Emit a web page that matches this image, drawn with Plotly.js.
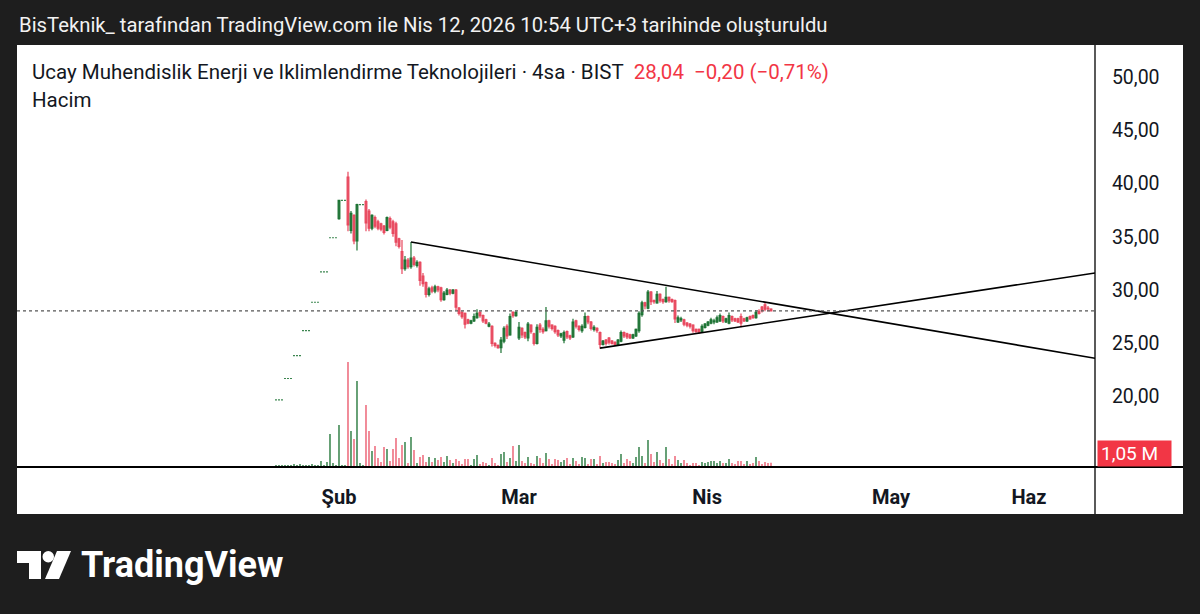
<!DOCTYPE html>
<html><head><meta charset="utf-8">
<script src="https://cdn.plot.ly/plotly-3.0.1.min.js"></script>
<style>html,body{margin:0;padding:0;background:#1e1e1e;}#chart{width:1200px;height:614px;}</style>
</head><body><div id="chart"></div>
<script>
// ---------------- DATA ----------------
const monthLabels = ['Şub', 'Mar', 'Nis', 'May', 'Haz'];
const monthStartBar = [21, 81, 143.7, 205, 251];
const priceTicks = [20, 25, 30, 35, 40, 45, 50];

const openP = [19.7,19.7,19.7,21.7,21.7,21.7,23.85,23.85,23.85,26.2,26.2,26.2,28.85,28.85,28.85,31.7,31.7,31.7,34.9,34.9,34.9,
36.7,38.4,38.4,40.6,35.6,37.0,34.6,38.0,38.0,38.3,37.4,35.8,36.8,36.4,36.2,36.0,35.6,36.7,36.4,
36.2,34.8,33.6,32.0,32.8,32.2,33.0,32.3,32.6,31.3,30.7,29.6,30.2,29.9,30.3,30.2,29.1,29.6,30.0,29.7,
30.0,28.3,27.9,27.8,27.2,26.9,27.1,27.4,27.9,27.6,27.2,26.6,26.6,25.0,24.8,24.6,25.2,26.6,25.8,27.9,
27.6,25.5,26.4,26.0,25.5,26.7,25.9,25.0,26.7,26.3,26.2,27.1,26.7,26.6,26.2,25.7,25.3,26.1,25.7,25.6,
27.1,26.6,26.2,26.5,27.5,27.0,26.3,26.4,26.0,24.9,25.3,25.5,25.2,25.1,24.9,25.2,26.0,25.9,25.8,25.5,
25.7,26.2,27.7,28.8,28.3,29.8,29.0,28.8,29.6,29.1,28.9,29.3,29.1,29.0,27.0,27.2,27.2,26.9,26.8,26.7,
26.3,26.3,26.1,26.5,26.7,26.9,27.0,27.0,27.1,27.5,27.0,26.9,27.5,27.3,27.3,27.5,27.3,27.1,27.5,27.6,
27.4,28.0,28.4,28.6,28.3,28.2];
const highP = [19.7,19.7,19.7,21.7,21.7,21.7,23.85,23.85,23.85,26.2,26.2,26.2,28.85,28.85,28.85,31.7,31.7,31.7,34.9,34.9,34.9,
38.4,38.4,38.4,41.1,37.4,37.1,38.1,38.0,38.0,38.5,37.6,37.1,37.0,36.6,36.3,36.1,36.9,36.9,36.6,
36.4,34.9,34.7,33.2,33.0,34.5,33.2,32.8,32.7,31.6,30.8,30.3,30.4,30.5,30.4,30.3,29.9,30.2,30.1,30.1,
30.1,28.4,28.0,27.9,27.3,27.2,27.8,28.2,28.0,27.7,27.3,27.0,26.7,25.1,24.9,25.6,26.6,26.8,27.8,28.0,
28.0,27.0,26.5,26.1,27.0,26.8,26.0,26.8,26.9,26.5,28.4,27.2,26.8,26.7,26.3,26.0,26.2,26.2,25.8,27.3,
27.2,26.7,26.8,27.9,27.6,27.1,26.7,26.5,26.1,25.3,25.4,25.6,25.3,25.2,25.4,26.2,26.1,26.0,25.9,25.9,
26.4,28.0,29.0,28.9,30.0,29.9,29.1,29.9,29.7,29.2,30.3,29.4,29.2,29.1,27.6,27.5,27.3,27.0,26.9,26.8,
26.4,26.4,26.8,26.9,27.1,27.4,27.3,27.6,27.8,27.6,27.4,27.9,27.6,27.4,27.4,27.8,27.4,27.5,27.6,27.7,
28.1,28.2,28.5,28.8,28.5,28.3];
const lowP = [19.7,19.7,19.7,21.7,21.7,21.7,23.85,23.85,23.85,26.2,26.2,26.2,28.85,28.85,28.85,31.7,31.7,31.7,34.9,34.9,34.9,
36.6,38.4,38.4,35.5,35.3,34.3,33.7,38.0,38.0,35.5,35.5,35.6,35.8,35.6,35.5,35.2,35.5,35.7,35.0,
34.1,33.9,31.5,31.8,32.0,32.0,32.2,32.1,30.4,30.3,29.3,29.4,29.7,29.7,29.8,28.9,29.0,29.5,29.5,29.6,
28.1,27.6,27.3,26.4,26.8,26.8,27.0,27.3,27.4,26.9,26.8,26.5,24.7,24.6,24.5,24.1,25.0,25.4,25.7,27.4,
27.5,25.3,25.5,25.4,25.2,25.9,24.8,24.9,26.0,25.9,26.1,26.4,26.2,25.9,25.6,25.5,25.0,25.4,25.3,25.5,
26.4,26.1,26.0,26.4,26.8,26.2,26.1,26.0,24.5,24.8,24.8,24.9,24.9,24.8,24.8,25.1,25.5,25.4,25.4,25.4,
25.6,26.0,27.5,28.2,28.2,28.6,28.7,28.7,28.8,28.7,28.8,28.8,28.8,26.9,26.9,27.0,26.6,26.5,26.4,26.0,
26.0,25.9,26.0,26.4,26.6,26.8,26.8,26.9,27.0,26.9,26.9,26.8,27.0,27.0,26.9,26.5,27.0,27.0,27.2,27.3,
27.3,27.7,27.9,28.0,28.0,28.0];
const closeP = [19.7,19.7,19.7,21.7,21.7,21.7,23.85,23.85,23.85,26.2,26.2,26.2,28.85,28.85,28.85,31.7,31.7,31.7,34.9,34.9,34.9,
38.4,38.4,38.4,36.1,37.2,34.6,38.0,38.0,38.0,36.3,35.8,37.0,36.0,35.8,35.7,35.4,36.8,35.9,35.3,
34.5,34.1,32.0,32.8,32.2,33.0,32.4,32.6,30.9,30.6,29.6,30.1,29.9,30.3,30.0,29.1,29.7,30.0,29.7,30.0,
28.4,27.8,27.5,26.8,26.9,27.1,27.5,27.8,27.6,27.1,26.9,26.8,25.0,24.8,24.6,25.3,26.4,25.7,27.5,27.6,
27.9,26.5,25.8,25.6,26.8,26.1,25.0,26.5,26.3,26.1,27.1,26.6,26.4,26.1,25.8,25.9,26.0,25.6,25.5,27.0,
26.6,26.3,26.6,27.5,27.0,26.4,26.5,26.2,24.9,25.2,25.0,25.1,25.0,24.9,25.3,26.0,25.7,25.6,25.5,25.8,
26.3,27.8,28.8,28.5,29.8,28.9,28.9,29.6,29.0,28.9,29.3,29.0,28.9,27.3,27.4,27.3,26.8,26.7,26.6,26.2,
26.1,26.0,26.6,26.8,27.0,27.2,27.1,27.4,27.6,27.1,27.3,27.6,27.2,27.1,27.0,26.9,27.1,27.4,27.3,27.4,
27.9,27.8,28.1,28.2,28.24,28.04];
// volume in millions
const volumeM = [0.5,0.5,0.5,0.5,0.5,0.5,0.75,0.5,0.75,0.5,0.5,0.5,0.75,0.5,0.5,1.5,0.5,1.25,8.25,1.0,0.5,
10.5,0.5,0.5,26.25,9.0,7.0,21.5,1.0,0.5,15.5,9.0,4.0,5.25,2.25,1.25,5.0,4.5,1.5,4.5,
7.25,2.25,5.5,6.25,1.0,7.5,4.25,1.0,2.5,3.0,1.25,2.5,1.25,2.25,1.75,2.5,1.25,2.75,1.75,1.0,
2.0,1.5,0.75,2.0,2.0,0.5,2.0,3.0,0.75,1.25,1.0,0.5,2.25,1.0,0.5,3.25,3.75,1.25,2.25,5.25,
1.5,5.5,1.5,1.0,2.5,1.0,0.75,2.75,2.25,1.0,3.5,2.0,0.75,2.0,1.75,1.25,1.75,2.25,0.75,2.25,
1.5,0.75,2.5,2.25,0.75,2.0,2.0,0.75,2.75,1.0,1.25,1.25,1.0,0.75,1.75,3.25,1.0,2.0,1.5,1.0,
2.5,5.0,2.75,1.0,6.75,3.25,1.25,3.75,1.75,1.0,5.0,2.0,0.75,2.75,1.75,1.0,1.75,1.0,0.5,1.0,
1.0,0.5,1.25,1.0,1.25,1.5,1.5,1.0,1.5,1.0,1.0,2.0,1.0,0.75,1.5,1.5,0.75,1.5,0.75,1.0,
2.5,1.5,0.75,1.25,1.0,1.05];

const upperTrendBar = [45, 273];
const upperTrendPrice = [34.5, 23.6];
const lowerTrendBar = [108, 273];
const lowerTrendPrice = [24.55, 31.6];
const prevDayClose = 28.24;

const headerText = 'BisTeknik_ tarafından TradingView.com ile Nis 12, 2026 10:54 UTC+3 tarihinde oluşturuldu';
const symbolText = 'Ucay Muhendislik Enerji ve Iklimlendirme Teknolojileri · 4sa · BIST';
const volumeLabel = 'Hacim';

// ---------------- STYLE / LAYOUT ----------------
const UP = '#1d7334', DN = '#e8485e';
const UPV = 'rgba(29,115,52,0.75)', DNV = 'rgba(232,72,94,0.7)';
const FONT = 'Roboto, "Open Sans", sans-serif';
const L = 17, R = 1095, T = 45, B = 467;
const pxX = p => (p - L) / (R - L);
const pxY = p => (B - p) / (B - T);

const bars = closeP.map((_, i) => i);

// volume colours follow candle direction (same rule as the candlestick trace)
const volColors = [];
let inc = true, cPrev = null;
for (let i = 0; i < closeP.length; i++) {
  const o = openP[i], c = closeP[i];
  if (c === o) { if (cPrev !== null && c !== cPrev) inc = c > cPrev; }
  else inc = c > o;
  cPrev = c;
  volColors.push(inc ? UPV : DNV);
}

const last = closeP[closeP.length - 1];
const chg = last - prevDayClose;
const pct = chg / prevDayClose * 100;
const fmt = (v, d) => (v < 0 ? '\u2212' : '') + Math.abs(v).toFixed(d).replace('.', ',');
const priceInfo = fmt(last, 2) + '&nbsp;&nbsp;' + fmt(chg, 2) + ' (' + fmt(pct, 2) + '%)';
const lastVol = volumeM[volumeM.length - 1];

const traces = [
  {type: 'bar', x: bars, y: volumeM, yaxis: 'y2', width: 0.6,
   marker: {color: volColors, line: {width: 0}}, hoverinfo: 'skip'},
  {type: 'candlestick', x: bars, open: openP, high: highP, low: lowP, close: closeP,
   increasing: {line: {color: UP, width: 1.2}, fillcolor: UP},
   decreasing: {line: {color: DN, width: 1.2}, fillcolor: DN},
   whiskerwidth: 0, hoverinfo: 'skip'},
  {type: 'scatter', mode: 'lines', x: upperTrendBar, y: upperTrendPrice,
   line: {color: '#000000', width: 1.6}, hoverinfo: 'skip'},
  {type: 'scatter', mode: 'lines', x: lowerTrendBar, y: lowerTrendPrice,
   line: {color: '#000000', width: 1.6}, hoverinfo: 'skip'}
];

function path(pts) { return 'M' + pts.map(p => pxX(p[0]).toFixed(5) + ',' + pxY(p[1]).toFixed(5)).join(' L') + ' Z'; }

const layout = {
  width: 1200, height: 614,
  margin: {l: L, r: 1200 - R, t: T, b: 614 - B, pad: 0},
  paper_bgcolor: '#1e1e1e', plot_bgcolor: '#ffffff',
  showlegend: false, separators: ',.', boxgap: 0.18,
  font: {family: FONT, color: '#131722'},
  xaxis: {range: [-86.33, 273], showgrid: false, zeroline: false, showline: false,
    tickmode: 'array', tickvals: monthStartBar, ticktext: monthLabels,
    ticks: 'outside', ticklen: 12, tickcolor: 'rgba(0,0,0,0)',
    tickfont: {family: FONT, size: 20, color: '#131722', weight: 'bold'},
    rangeslider: {visible: false}, fixedrange: true},
  yaxis: {range: [13.40, 52.98], side: 'right', showgrid: false, zeroline: false, showline: false,
    tickmode: 'array', tickvals: priceTicks, tickformat: '.2f',
    ticks: 'outside', ticklen: 12, tickcolor: 'rgba(0,0,0,0)',
    tickfont: {family: FONT, size: 19.5, color: '#131722'}, fixedrange: true},
  yaxis2: {overlaying: 'y', range: [0, 105.5], visible: false, fixedrange: true},
  shapes: [
    {type: 'rect', xref: 'paper', yref: 'paper', x0: pxX(17), x1: pxX(1183), y0: pxY(514), y1: pxY(45),
     fillcolor: '#ffffff', line: {width: 0}, layer: 'below'},
    {type: 'line', xref: 'paper', yref: 'y', x0: 0, x1: 1, y0: last, y1: last,
     line: {color: '#555555', width: 1.2, dash: 'dot'}},
    {type: 'line', xref: 'paper', yref: 'paper', x0: 1, x1: 1, y0: pxY(514), y1: 1,
     line: {color: '#000000', width: 1.3}},
    {type: 'line', xref: 'paper', yref: 'paper', x0: 0, x1: pxX(1183), y0: 0, y1: 0,
     line: {color: '#000000', width: 2}},
    {type: 'path', xref: 'paper', yref: 'paper', fillcolor: '#ffffff', line: {width: 0},
     path: path([[17,551],[41,551],[41,579],[29,579],[29,563],[17,563]])},
    {type: 'circle', xref: 'paper', yref: 'paper', fillcolor: '#ffffff', line: {width: 0},
     x0: pxX(42.5), x1: pxX(54), y0: pxY(562.5), y1: pxY(551)},
    {type: 'path', xref: 'paper', yref: 'paper', fillcolor: '#ffffff', line: {width: 0},
     path: path([[57,551],[71,551],[59,579],[45,579]])}
  ],
  annotations: [
    {xref: 'paper', yref: 'paper', x: pxX(17), y: pxY(25), xanchor: 'left', yanchor: 'middle',
     text: headerText, showarrow: false, font: {family: FONT, size: 20.3, color: '#f2f2f2'}},
    {xref: 'paper', yref: 'paper', x: pxX(30), y: pxY(72), xanchor: 'left', yanchor: 'middle',
     text: symbolText + '&nbsp;&nbsp;<span style="color:#f23645">' + priceInfo + '</span>',
     showarrow: false, font: {family: FONT, size: 20.5, color: '#131722'}},
    {xref: 'paper', yref: 'paper', x: pxX(30), y: pxY(100), xanchor: 'left', yanchor: 'middle',
     text: volumeLabel, showarrow: false, font: {family: FONT, size: 20.5, color: '#131722'}},
    {xref: 'paper', yref: 'paper', x: pxX(1097), y: pxY(453.5), xanchor: 'left', yanchor: 'middle',
     text: lastVol.toFixed(2).replace('.', ',') + ' M', showarrow: false, align: 'left',
     bgcolor: '#f23645', borderpad: 3, width: 67, height: 19,
     font: {family: FONT, size: 19, color: '#ffffff'}},
    {xref: 'paper', yref: 'paper', x: pxX(79), y: pxY(565), xanchor: 'left', yanchor: 'middle',
     text: '<b>TradingView</b>', showarrow: false, font: {family: FONT, size: 36, color: '#ffffff'}}
  ]
};

Plotly.newPlot('chart', traces, layout, {staticPlot: true, displayModeBar: false});
</script>
</body></html>
